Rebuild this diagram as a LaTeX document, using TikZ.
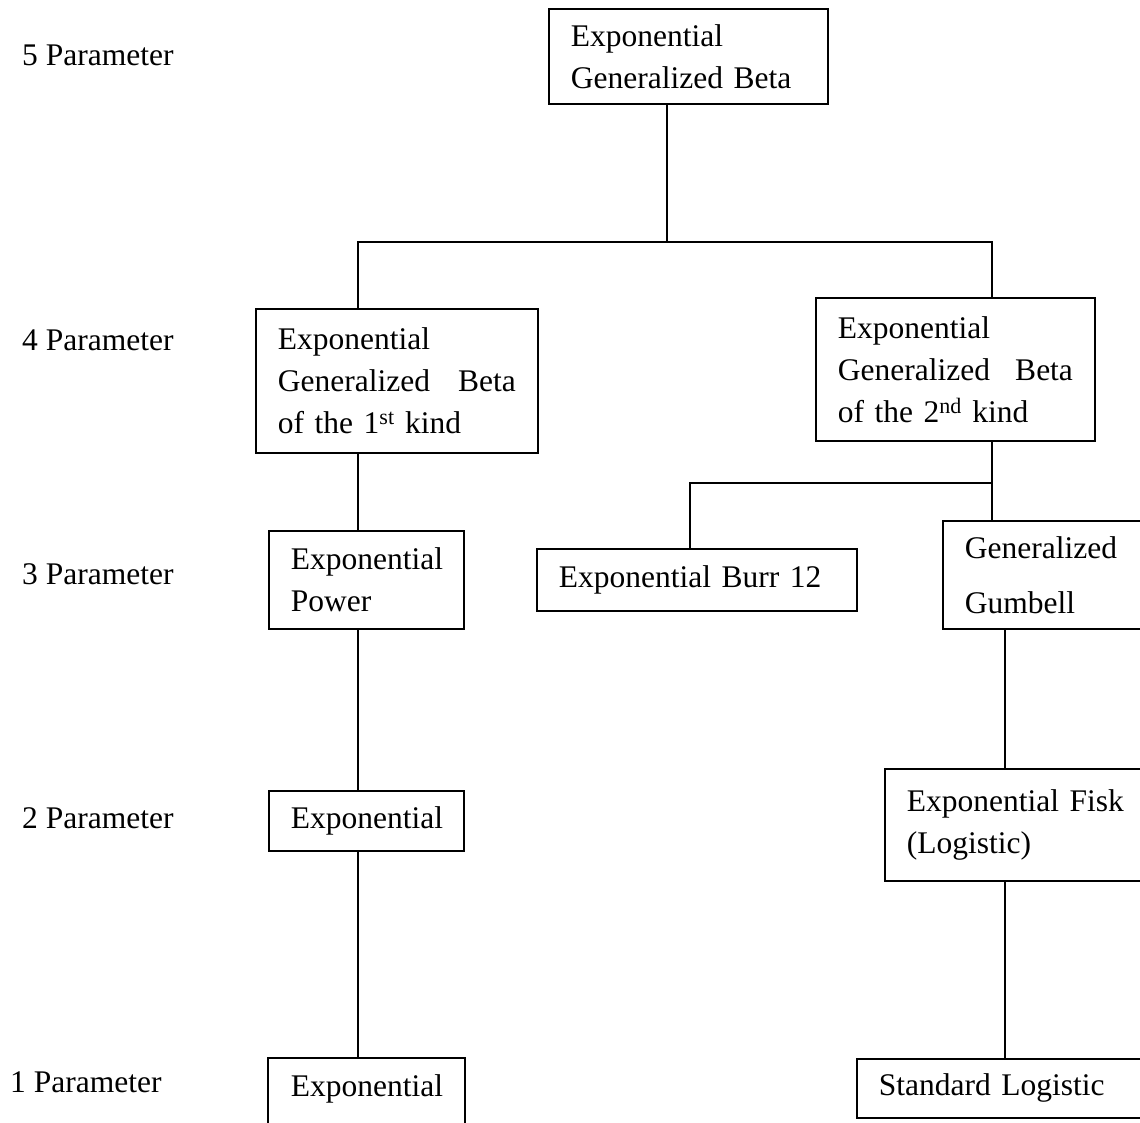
\documentclass[tikz,border=0pt]{standalone}
\usepackage{fontspec}
\setmainfont{Liberation Serif}
\begin{document}
\begin{tikzpicture}[x=1pt,y=-1pt,
  every node/.style={font=\fontsize{31.5}{42}\selectfont},
  box/.style={draw, line width=1.9pt, anchor=north west, inner xsep=22pt,
    inner ysep=0pt, align=left},
  level/.style={anchor=west, inner sep=0pt},
  link/.style={line width=1.9pt}]
\useasboundingbox (0,0) rectangle (1140,1122);

% parameter count labels
\node[level] (p5) at (22,55) {5 Parameter};
\node[level] (p4) at (22,340) {4 Parameter};
\node[level] (p3) at (22,574) {3 Parameter};
\node[level] (p2) at (22,818) {2 Parameter};
\node[level] (p1) at (10,1082) {1 Parameter};

% distribution boxes
\node[box, text width=235pt, minimum height=95pt] (egb) at (548,8)
  {Exponential\\Generalized Beta};
\node[box, text width=238pt, minimum height=144pt] (egb1) at (255,308)
  {Exponential\\Generalized\hfill Beta\\of the 1\textsuperscript{st} kind};
\node[box, text width=235pt, minimum height=143pt] (egb2) at (815,297)
  {Exponential\\Generalized\hfill Beta\\of the 2\textsuperscript{nd} kind};
\node[box, text width=276pt, minimum height=62pt] (burr) at (536,548)
  {Exponential Burr 12};
\node[box, text width=180pt, minimum height=108pt] (gg) at (942,520)
  {Generalized\\[13pt]Gumbell};
\node[box, text width=151pt, minimum height=98pt] (pow) at (268,530)
  {Exponential\\Power};
\node[box, text width=151pt, minimum height=60pt] (ex2) at (268,790)
  {Exponential};
\node[box, text width=230pt, minimum height=112pt] (fisk) at (884,768)
  {Exponential Fisk\\(Logistic)};
\node[box, text width=260pt, minimum height=59pt] (sl) at (856,1058)
  {Standard Logistic};
\node[box, draw=none, text width=151pt, minimum height=60pt] (ex1) at (268,1058)
  {Exponential};
\draw[link] ([yshift=-40pt]ex1.south west) -- (ex1.north west)
  -- (ex1.north east) -- ([yshift=-40pt]ex1.south east);

% junction points of the tree
\coordinate (t) at (667,242);
\coordinate (tl) at (358,242);
\coordinate (tr) at (992,242);
\coordinate (b) at (992,483);
\coordinate (bl) at (690,483);
\coordinate (rx) at (1005,0);

% connectors
\draw[link] (egb.south -| t) -- (t);
\draw[link] (egb1.north -| tl) -- (tl) -- (tr) -- (egb2.north -| tr);
\draw[link] (egb2.south -| b) -- (gg.north -| b);
\draw[link] (b) -- (bl) -- (burr.north -| bl);
\draw[link] (egb1.south -| tl) -- (pow.north -| tl);
\draw[link] (pow.south -| tl) -- (ex2.north -| tl);
\draw[link] (ex2.south -| tl) -- (ex1.north -| tl);
\draw[link] (gg.south -| rx) -- (fisk.north -| rx);
\draw[link] (fisk.south -| rx) -- (sl.north -| rx);
\end{tikzpicture}
\end{document}
